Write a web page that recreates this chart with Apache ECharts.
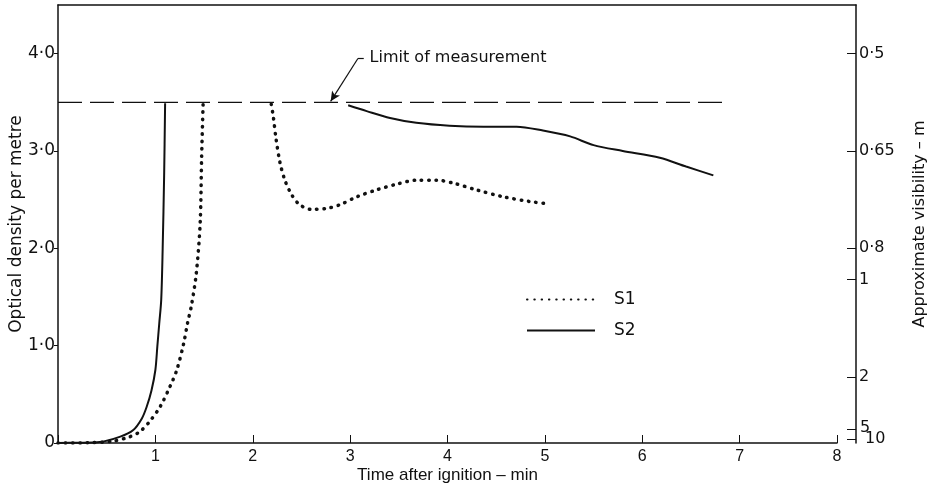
<!DOCTYPE html>
<html>
<head>
<meta charset="utf-8">
<script src="https://cdn.jsdelivr.net/npm/echarts@6/dist/echarts.min.js"></script>
<style>html,body{margin:0;padding:0;background:#fff}#c{width:928px;height:491px}</style>
</head>
<body>
<div id="c"></div>
<script>
// ---- data ----
const xTicks = [1, 2, 3, 4, 5, 6, 7, 8];
const yTicks = [0, 1, 2, 3, 4];
const yTickLabels = ['0', '1·0', '2·0', '3·0', '4·0'];
const visibilityOD = [4.0, 3.0, 2.0, 1.68, 0.68, 0.14, 0.04];
const visibilityLabels = ['0·5', '0·65', '0·8', '1', '2', '5', '10'];
const limitOfMeasurement = 3.5;
const limitLine = [[0, 3.5], [6.82, 3.5]];

const s1Rise = [[0, 0], [0.3, 0.002], [0.57, 0.02], [0.74, 0.065], [0.84, 0.116], [0.94, 0.22],
  [1.05, 0.375], [1.15, 0.58], [1.22, 0.75], [1.29, 1.02], [1.33, 1.23], [1.37, 1.41],
  [1.42, 1.74], [1.46, 2.26], [1.475, 2.94], [1.49, 3.48]];
const s1Late = [[2.19, 3.48], [2.21, 3.36], [2.24, 3.12], [2.28, 2.88], [2.33, 2.70], [2.40, 2.55],
  [2.48, 2.45], [2.60, 2.40], [2.76, 2.41], [2.90, 2.45], [3.07, 2.53], [3.27, 2.60],
  [3.48, 2.66], [3.68, 2.70], [3.89, 2.70], [4.06, 2.67], [4.30, 2.60], [4.57, 2.53],
  [4.85, 2.48], [5.02, 2.46]];
const s2Rise = [[0, 0], [0.2, 0.003], [0.43, 0.01], [0.64, 0.065], [0.77, 0.13], [0.86, 0.25],
  [0.91, 0.37], [0.96, 0.54], [1.00, 0.75], [1.02, 0.99], [1.04, 1.23], [1.06, 1.47],
  [1.075, 2.0], [1.09, 2.75], [1.10, 3.49]];
const s2Late = [[2.98, 3.47], [3.17, 3.41], [3.41, 3.34], [3.68, 3.29], [4.02, 3.26], [4.37, 3.25],
  [4.71, 3.25], [4.98, 3.21], [5.26, 3.15], [5.50, 3.06], [5.80, 3.00], [6.18, 2.93],
  [6.45, 2.84], [6.73, 2.75]];
const annotationText = 'Limit of measurement';
const annotationAnchor = [3.2, 3.96];
const arrowHook = [[3.14, 3.95], [3.08, 3.95]];
const arrowShaft = [[3.08, 3.95], [2.80, 3.51]];

// ---- chart ----
const INK = '#111';
const FONT = 'DejaVu Sans';
const NARROW = '"Liberation Sans Narrow", "Liberation Sans", Arial';
const chart = echarts.init(document.getElementById('c'), null, {renderer: 'canvas'});

const s1Style = {color: INK, width: 3.5, type: [0.5, 6.8], cap: 'round'};
const s2Style = {color: INK, width: 2, type: 'solid'};

// the '5' visibility label sits on its own label-only axis so it is not dropped by overlap handling
const mainVisIdx = visibilityLabels.map((t, i) => i).filter(i => visibilityLabels[i] !== '5');
const fiveIdx = visibilityLabels.indexOf('5');

function visLabel(v) {
  const i = visibilityOD.indexOf(v);
  return i < 0 ? '' : visibilityLabels[i];
}

chart.setOption({
  animation: false,
  backgroundColor: '#fff',
  legend: {
    data: ['S1', 'S2'],
    orient: 'vertical',
    left: 521, top: 286,
    itemWidth: 68, itemHeight: 14, itemGap: 14,
    itemStyle: {opacity: 0, borderWidth: 0},
    textStyle: {fontFamily: FONT, fontSize: 17, color: INK, padding: [0, 0, 0, 14]}
  },
  grid: [
    {left: 58, right: 91, top: 5, bottom: 48, outerBoundsMode: 'none', containLabel: false},
    {left: 58, right: 72, top: 5, bottom: 48, outerBoundsMode: 'none', containLabel: false}
  ],
  xAxis: [
    {
      type: 'value', gridIndex: 0, min: 0, max: 8, interval: 1,
      name: 'Time after ignition – min', nameLocation: 'middle', nameGap: 24, nameMoveOverlap: false,
      nameTextStyle: {fontFamily: NARROW, fontSize: 17, color: INK},
      axisLine: {onZero: false, lineStyle: {color: INK, width: 1.5}},
      axisTick: {inside: true, length: 8, lineStyle: {color: INK, width: 1}},
      axisLabel: {
        fontFamily: NARROW, fontSize: 16, color: INK, margin: 6,
        formatter: v => (xTicks.indexOf(v) >= 0 ? String(v) : '')
      },
      splitLine: {show: false}
    },
    {
      type: 'value', gridIndex: 1, position: 'top', min: 0, max: 1,
      axisLine: {onZero: false, lineStyle: {color: INK, width: 1.5}},
      axisTick: {show: false}, axisLabel: {show: false}, splitLine: {show: false}
    }
  ],
  yAxis: [
    {
      type: 'value', gridIndex: 0, min: 0, max: 4.5,
      name: 'Optical density per metre', nameLocation: 'middle', nameGap: 33, nameRotate: 90,
      nameMoveOverlap: false,
      nameTextStyle: {fontFamily: FONT, fontSize: 17, color: INK},
      axisLine: {show: true, onZero: false, lineStyle: {color: INK, width: 1.5}},
      axisTick: {show: true, length: 4, customValues: yTicks, lineStyle: {color: INK}},
      axisLabel: {
        fontFamily: FONT, fontSize: 17, color: INK, margin: 3,
        customValues: yTicks,
        formatter: v => { const i = yTicks.indexOf(v); return i >= 0 ? yTickLabels[i] : ''; }
      },
      splitLine: {show: false}
    },
    {
      type: 'value', gridIndex: 1, position: 'right', min: 0, max: 4.5,
      name: 'Approximate visibility – m', nameLocation: 'middle', nameGap: 56, nameRotate: 90,
      nameMoveOverlap: false,
      nameTextStyle: {fontFamily: FONT, fontSize: 16, color: INK},
      axisLine: {show: true, onZero: false, lineStyle: {color: INK, width: 1.5}},
      axisTick: {show: true, inside: true, length: 9, customValues: visibilityOD, lineStyle: {color: INK}},
      axisLabel: {
        fontFamily: FONT, fontSize: 16, color: INK, margin: 3, hideOverlap: false,
        showMinLabel: true, showMaxLabel: true,
        customValues: mainVisIdx.map(i => visibilityOD[i]),
        formatter: v => { const t = visLabel(v); return t === '10' ? '{s|' + t + '}' : t; },
        rich: {s: {fontFamily: FONT, fontSize: 16, color: INK, padding: [0, 0, 0, 6]}}
      },
      splitLine: {show: false}
    },
    {
      type: 'value', gridIndex: 0, position: 'right', offset: 19, min: 0, max: 4.5,
      axisLine: {show: false}, axisTick: {show: false}, splitLine: {show: false},
      axisLabel: {
        fontFamily: FONT, fontSize: 16, color: INK, margin: 4,
        showMinLabel: true, showMaxLabel: true,
        customValues: [visibilityOD[fiveIdx]],
        formatter: v => '{u|' + visLabel(v) + '}',
        rich: {u: {fontFamily: FONT, fontSize: 16, color: INK, padding: [0, 0, 3, 0]}}
      }
    }
  ],
  series: [
    {
      name: 'limit', type: 'line', xAxisIndex: 0, yAxisIndex: 0,
      data: limitLine, symbol: 'none', silent: true,
      lineStyle: {color: INK, width: 1.3, type: [24, 8]},
      markLine: {
        silent: true, animation: false,
        lineStyle: {color: INK, width: 1.2, type: 'solid'},
        label: {show: false},
        symbolSize: [7, 10],
        data: [
          [{coord: arrowHook[0], symbol: 'none'}, {coord: arrowHook[1], symbol: 'none'}],
          [{coord: arrowShaft[0], symbol: 'none'}, {coord: arrowShaft[1], symbol: 'arrow'}]
        ]
      }
    },
    {
      name: 'annotation', type: 'scatter', xAxisIndex: 0, yAxisIndex: 0,
      data: [annotationAnchor], symbolSize: 0, silent: true,
      itemStyle: {opacity: 1, color: INK},
      label: {show: true, position: 'right', distance: 0, formatter: annotationText,
        fontFamily: FONT, fontSize: 16, color: INK, opacity: 1}
    },
    {name: 'S1', type: 'line', xAxisIndex: 0, yAxisIndex: 0, data: s1Rise, smooth: 0.3,
      symbol: 'none', lineStyle: s1Style, itemStyle: {color: INK}},
    {name: 'S1', type: 'line', xAxisIndex: 0, yAxisIndex: 0, data: s1Late, smooth: 0.3,
      symbol: 'none', lineStyle: s1Style, itemStyle: {color: INK}},
    {name: 'S2', type: 'line', xAxisIndex: 0, yAxisIndex: 0, data: s2Rise, smooth: 0.3,
      symbol: 'none', lineStyle: s2Style, itemStyle: {color: INK}},
    {name: 'S2', type: 'line', xAxisIndex: 0, yAxisIndex: 0, data: s2Late, smooth: 0.3,
      symbol: 'none', lineStyle: s2Style, itemStyle: {color: INK}}
  ]
});
</script>
</body>
</html>
